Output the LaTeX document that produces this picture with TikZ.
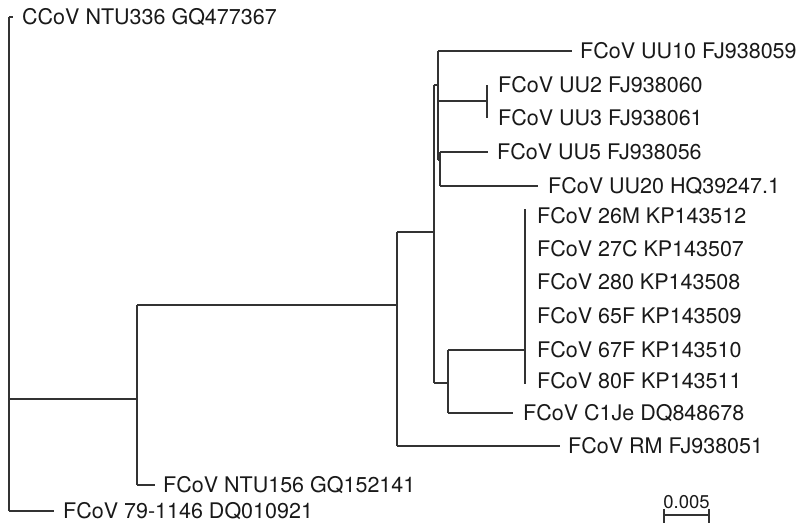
\documentclass[tikz,border=0pt]{standalone}
\usepackage{fontspec}
\setmainfont{TeX Gyre Heros}
\begin{document}
\begin{tikzpicture}[x=1pt,y=-1pt,
  br/.style={draw=black!80, line width=1.1pt},
  lab/.style={anchor=west, inner sep=0pt, text height=15.4pt, text depth=0pt,
    font=\fontsize{21.5}{24}\selectfont, text=black!90}]
\useasboundingbox (0,0) rectangle (804,525);
% tip labels
\node[lab] (ccov)   at (22,17)  {CCoV NTU336 GQ477367};
\node[lab] (uu10)   at (580,51) {FCoV UU10 FJ938059};
\node[lab] (uu2)    at (498,85) {FCoV UU2 FJ938060};
\node[lab] (uu3)    at (498,118) {FCoV UU3 FJ938061};
\node[lab] (uu5)    at (497,152) {FCoV UU5 FJ938056};
\node[lab] (uu20)   at (548,186) {FCoV UU20 HQ39247.1};
\node[lab] (m26)    at (537,216) {FCoV 26M KP143512};
\node[lab] (c27)    at (537,249) {FCoV 27C KP143507};
\node[lab] (s280)   at (537,282) {FCoV 280 KP143508};
\node[lab] (f65)    at (537,316) {FCoV 65F KP143509};
\node[lab] (f67)    at (537,350) {FCoV 67F KP143510};
\node[lab] (f80)    at (537,381) {FCoV 80F KP143511};
\node[lab] (c1je)   at (523,413) {FCoV C1Je DQ848678};
\node[lab] (rm)     at (568,446) {FCoV RM FJ938051};
\node[lab] (ntu156) at (163,485) {FCoV NTU156 GQ152141};
\node[lab] (c79)    at (63,511) {FCoV 79-1146 DQ010921};
% internal nodes
\coordinate (r)  at (9,399);
\coordinate (n1) at (137,399);
\coordinate (n2) at (397,305);
\coordinate (n3) at (434,232);
\coordinate (n4) at (438,85);
\coordinate (n8) at (487,101);
\coordinate (n5) at (440,160);
\coordinate (n6) at (448,383);
\coordinate (n7) at (525,350);
% root
\draw[br] (r |- ccov) -- (r |- c79);
\draw[br] (r |- ccov) -- ([xshift=-9pt]ccov.west);
\draw[br] (r |- c79) -- ([xshift=-9pt]c79.west);
\draw[br] (r) -- (n1);
% n1
\draw[br] (n1 |- n2) -- (n1 |- ntu156);
\draw[br] (n1 |- n2) -- (n2);
\draw[br] (n1 |- ntu156) -- ([xshift=-8pt]ntu156.west);
% n2
\draw[br] (n2 |- n3) -- (n2 |- rm);
\draw[br] (n2 |- n3) -- (n3);
\draw[br] (n2 |- rm) -- ([xshift=-8pt]rm.west);
% n3
\draw[br] (n3 |- n4) -- (n3 |- n6);
\draw[br] (n3 |- n4) -- (n4);
\draw[br] (n3 |- n6) -- (n6);
% n4
\draw[br] (n4 |- uu10) -- (n4 |- n5);
\draw[br] (n4 |- uu10) -- ([xshift=-8pt]uu10.west);
\draw[br] (n4 |- n8) -- (n8);
\draw[br] (n8 |- uu2) -- (n8 |- uu3);
\draw[br] (n4 |- n5) -- (n5);
% n5
\draw[br] (n5 |- uu5) -- (n5 |- uu20);
\draw[br] (n5 |- uu5) -- ([xshift=-9pt]uu5.west);
\draw[br] (n5 |- uu20) -- ([xshift=-10pt]uu20.west);
% n6
\draw[br] (n6 |- n7) -- (n6 |- c1je);
\draw[br] (n6 |- n7) -- (n7);
\draw[br] (n6 |- c1je) -- ([xshift=-10pt]c1je.west);
% n7
\draw[br] ([yshift=7pt]n7 |- m26) -- ([yshift=-3pt]n7 |- f80);
% scale bar
\coordinate (sb1) at (664,515);
\coordinate (sb2) at (709,515);
\node[anchor=base, inner sep=0pt, font=\fontsize{18.5}{20}\selectfont, text=black!90] (sblab) at (686.5,508) {0.005};
\draw[br] (sb1) -- (sb2);
\draw[br] ([yshift=6pt]sb1) -- ([yshift=-8pt]sb1);
\draw[br] ([yshift=6pt]sb2) -- ([yshift=-8pt]sb2);
\end{tikzpicture}
\end{document}
